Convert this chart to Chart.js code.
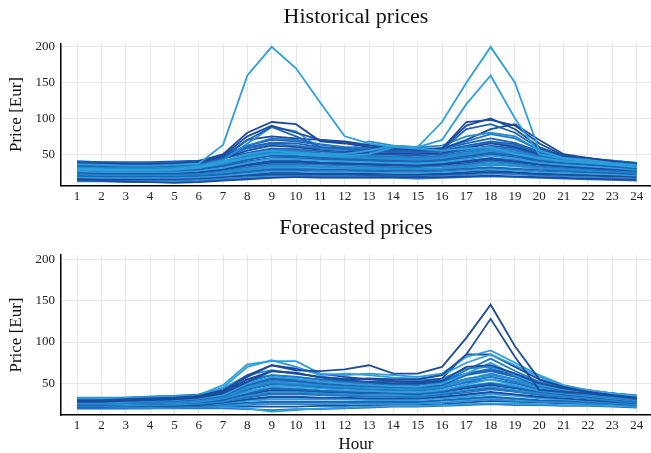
<!DOCTYPE html>
<html>
<head>
<meta charset="utf-8">
<script src="https://cdn.jsdelivr.net/npm/chart.js@4.4.1/dist/chart.umd.min.js"></script>
<style>
  body { margin: 0; background: #fff; width: 651px; height: 453px; overflow: hidden; }
  .box { position: absolute; left: 0; width: 651px; }
</style>
</head>
<body>
<div class="box" style="top:0;height:215px"><canvas id="histChart"></canvas></div>
<div class="box" style="top:215px;height:238px"><canvas id="foreChart"></canvas></div>
<script>
const hours = [1,2,3,4,5,6,7,8,9,10,11,12,13,14,15,16,17,18,19,20,21,22,23,24];
const priceTicks = [50, 100, 150, 200];

// one row per day, one value per hour
const historicalPrices = [
  [36,35,34,34,35,37,63,160,200,170,122,75,65,60,58,55,58,60,50,45,40,38,35,32],
  [30,29,28,28,29,33,40,50,55,52,50,50,55,62,60,95,150,200,150,55,45,42,38,35],
  [28,27,27,27,28,31,38,45,50,50,48,47,50,60,60,70,120,160,100,50,44,40,36,33],
  [38,37,36,36,37,40,50,80,95,92,68,65,60,58,56,58,95,98,90,65,48,44,40,36],
  [36,35,35,35,36,38,48,75,90,80,70,66,62,60,58,58,90,100,85,60,47,43,39,35],
  [34,33,33,33,34,37,45,70,88,75,60,58,56,55,54,56,85,92,80,58,46,42,38,34],
  [32,31,31,31,32,35,42,65,88,82,58,55,68,62,60,62,75,80,75,55,45,42,38,34],
  [35,34,34,34,35,38,46,70,75,72,70,68,63,58,56,58,70,85,92,70,50,45,40,36],
  [33,32,32,32,33,36,44,62,72,70,64,60,58,56,55,57,68,78,72,56,46,42,38,34],
  [40,39,38,38,39,40,47,60,66,65,60,57,55,54,53,55,62,68,64,52,46,43,40,37],
  [38,37,36,36,37,39,44,55,62,60,56,54,52,51,50,52,58,65,60,50,45,42,39,36],
  [32,31,31,31,31,33,40,50,56,55,52,50,48,47,46,48,54,60,56,47,43,40,37,34],
  [30,29,29,29,29,31,37,46,52,51,48,46,45,44,43,45,50,56,52,44,40,38,35,32],
  [28,27,27,27,27,29,34,42,48,47,45,43,42,41,40,42,47,52,48,41,38,36,33,30],
  [26,25,25,25,25,27,31,38,44,43,41,40,39,38,37,39,43,48,44,38,35,33,31,28],
  [25,24,24,24,24,25,29,35,40,40,38,37,36,35,34,36,40,44,40,36,33,31,29,27],
  [23,22,22,22,22,23,27,32,36,36,35,34,33,32,32,33,36,40,37,33,31,29,27,25],
  [22,21,21,21,21,22,25,29,33,33,32,31,30,30,29,30,33,36,34,31,29,27,26,24],
  [20,19,19,19,19,20,22,26,29,29,28,28,27,27,27,28,30,32,30,28,27,25,24,22],
  [18,17,17,17,17,18,20,23,26,26,25,25,25,24,24,25,27,29,27,25,24,23,22,20],
  [16,15,15,15,15,16,18,20,22,22,22,22,21,21,21,22,23,25,24,22,21,20,19,18],
  [14,13,12,11,10,11,13,15,17,18,18,18,18,18,18,18,19,20,19,18,17,16,15,14],
  [12,12,11,11,11,12,14,16,18,18,17,17,17,17,16,17,18,19,18,17,16,15,14,13],
  [35,35,34,34,35,37,40,45,48,47,45,44,43,42,42,44,48,55,50,44,42,40,38,36],
  [27,26,26,26,26,28,33,40,45,45,43,42,41,40,39,41,45,50,46,40,37,35,32,29],
  [24,23,23,23,23,24,28,34,38,38,37,36,35,34,33,35,38,42,39,35,32,30,28,26],
  [39,38,37,37,38,39,45,58,64,62,58,56,54,53,52,54,60,66,62,51,47,44,41,38],
  [30,30,29,29,30,32,36,44,50,49,46,45,44,43,42,44,49,54,50,43,40,38,35,31],
  [37,36,35,35,36,38,44,52,58,57,54,52,50,49,48,50,56,62,58,48,44,41,38,35],
  [34,33,32,32,33,35,40,48,54,53,50,48,47,46,45,47,52,58,54,46,42,39,36,33],
  [31,30,30,30,30,32,36,43,48,48,46,44,43,43,42,44,48,53,49,43,40,37,34,31],
  [29,28,28,28,28,30,33,39,44,44,42,41,40,40,39,41,44,49,45,40,37,35,32,30],
  [21,20,20,20,20,21,24,28,31,31,30,30,29,29,28,29,32,35,33,30,28,26,25,23],
  [19,18,18,18,18,19,21,24,27,27,26,26,26,25,25,26,28,30,28,26,25,24,23,21],
  [17,16,16,16,16,17,19,21,24,24,23,23,23,22,22,23,25,27,25,23,22,21,20,19],
  [15,14,14,13,13,14,16,18,20,20,20,20,20,19,19,20,21,23,22,20,19,18,17,16],
  [26,26,25,25,26,27,30,36,41,41,39,38,37,36,36,37,41,45,42,37,34,32,30,28],
  [40,39,39,39,40,41,48,62,70,68,63,60,58,56,55,57,65,72,66,54,48,44,41,38],
  [33,33,32,32,32,34,38,47,53,52,49,47,46,45,44,46,51,57,53,45,41,39,36,33],
  [23,23,22,22,22,23,26,30,34,34,33,32,31,31,30,31,34,38,35,32,30,28,27,25]
];
const historicalShades = [4,4,4,0,0,1,3,0,2,1,0,2,3,1,4,0,2,3,1,4,0,0,2,3,1,0,2,4,1,3,0,2,4,1,0,3,2,1,0,4];

const forecastPrices = [
  [30,30,31,32,33,35,42,58,72,66,65,67,72,62,62,70,105,145,95,55,46,40,36,33],
  [29,29,30,31,32,34,40,55,65,62,58,55,56,55,55,60,85,128,82,42,40,38,35,32],
  [32,32,32,33,34,36,48,73,77,77,62,60,62,60,58,62,82,90,75,60,48,42,38,35],
  [31,31,31,32,33,35,45,70,78,70,60,62,60,57,56,60,75,85,72,58,47,42,38,34],
  [30,30,30,31,32,34,40,60,72,68,62,58,55,53,52,56,85,85,70,55,46,41,37,33],
  [28,28,29,30,31,33,38,52,65,63,57,54,52,50,50,53,70,72,62,50,44,40,36,32],
  [29,29,29,30,31,33,39,55,60,58,54,52,50,49,48,52,66,80,65,52,45,40,36,33],
  [27,27,28,29,30,32,36,50,58,56,52,50,48,47,46,50,62,75,60,48,43,39,35,32],
  [27,27,28,28,29,31,35,48,55,53,50,48,47,46,45,48,60,65,58,47,42,38,35,31],
  [26,26,27,27,28,30,34,45,52,50,48,46,45,44,43,46,55,62,55,45,41,37,34,30],
  [25,25,26,26,27,29,33,42,50,48,46,44,43,42,41,44,52,58,52,43,39,36,33,29],
  [25,25,25,26,26,28,32,40,47,46,44,42,41,40,39,42,49,55,48,41,38,35,32,29],
  [24,24,25,25,26,27,30,38,44,43,41,40,39,38,38,40,46,50,45,40,37,34,31,28],
  [23,23,24,24,25,26,29,35,40,40,38,37,36,36,35,38,42,46,42,38,35,33,30,27],
  [23,23,23,24,24,25,28,33,37,37,36,35,34,34,33,36,39,43,40,36,34,32,29,27],
  [22,22,23,23,23,24,27,31,34,34,33,33,32,32,32,34,37,40,37,34,32,30,28,26],
  [22,22,22,22,23,24,26,29,31,31,31,31,30,30,30,32,34,37,35,32,31,29,27,25],
  [21,21,21,22,22,23,25,27,28,28,28,28,28,28,28,30,32,34,32,30,29,28,26,24],
  [20,20,20,21,21,22,23,24,25,25,25,25,26,26,26,27,29,31,29,28,27,26,25,23],
  [21,21,21,21,21,22,22,20,16,18,20,21,22,23,23,24,25,26,26,25,24,24,23,22],
  [20,20,20,20,20,20,20,19,18,19,19,20,21,22,22,23,24,25,24,24,23,23,22,21],
  [33,33,33,34,35,37,44,60,66,62,58,56,55,55,54,56,68,70,62,52,46,42,38,36],
  [32,32,32,33,34,35,40,50,56,55,52,50,50,49,49,52,62,66,60,50,45,41,38,35],
  [26,26,26,27,27,28,31,36,42,42,40,39,38,38,37,40,44,48,44,39,36,33,30,28],
  [31,31,31,32,33,34,38,47,53,52,49,47,46,46,45,48,56,60,55,47,43,40,37,34],
  [28,28,28,29,30,31,35,43,49,48,45,44,43,42,42,45,51,55,50,43,40,37,34,31],
  [27,27,27,28,28,30,33,40,45,44,42,41,40,40,39,42,47,51,47,41,38,35,32,30],
  [24,24,24,25,25,26,29,34,38,38,37,36,35,35,34,37,41,44,41,37,35,32,30,28],
  [22,22,22,23,23,24,26,30,33,33,32,32,31,31,31,33,36,39,36,33,31,29,27,26],
  [21,21,21,21,22,22,24,26,27,27,27,27,27,27,27,29,31,33,31,29,28,27,25,24],
  [20,20,20,20,21,21,22,22,22,22,23,23,24,24,24,25,27,29,28,27,26,25,24,22],
  [30,30,30,31,32,33,37,45,50,49,47,46,45,45,44,47,54,58,53,46,42,39,36,33],
  [26,26,26,27,27,28,31,37,42,41,40,39,38,38,37,40,45,49,45,40,37,34,31,29],
  [32,32,33,34,35,36,41,52,60,58,55,53,52,52,51,54,62,68,60,50,45,41,38,35]
];
const forecastShades = [0,0,4,4,0,0,2,4,1,3,2,4,1,3,2,0,4,1,3,4,2,3,1,0,3,1,4,0,2,3,0,4,1,2];

const palette = ['#1d4b9e', '#1f63b6', '#2079c6', '#258dd2', '#2c9fdc'];

const serif = "'Liberation Serif', 'Times New Roman', serif";

function makeChart(canvasId, title, rows, shades, yMin, layout) {

    const ctx = document.getElementById(canvasId);

    return new Chart(ctx, {

        type: 'line',

        data: {
            datasets: rows.map((row, i) => ({
                data: row.map((v, j) => ({ x: hours[j], y: v })),
                borderColor: palette[shades[i]],
                borderWidth: 1.8,
                pointRadius: 0,
                tension: 0
            }))
        },

        options: {
            responsive: true,
            maintainAspectRatio: false,
            animation: false,
            layout: { padding: 0 },
            plugins: {
                legend: { display: false },
                tooltip: { enabled: false },
                title: {
                    display: true,
                    fullSize: false,   // centre over the plot area, not the canvas
                    text: title,
                    color: '#111',
                    font: { family: serif, size: 22, weight: 'normal', lineHeight: 1.2 },
                    padding: layout.titlePadding
                }
            },
            scales: {
                x: {
                    type: 'linear',
                    min: 0.34,
                    max: 24.59,
                    afterBuildTicks: s => { s.ticks = hours.map(h => ({ value: h })); },
                    afterFit: s => { s.height = layout.xHeight; },
                    grid: { color: '#e6e6e6', lineWidth: 1, drawTicks: false },
                    border: { color: '#000', width: 1.5 },
                    ticks: { color: '#222', padding: 3, maxRotation: 0, autoSkip: false,
                             font: { family: serif, size: 13 } },
                    title: {
                        display: layout.showHour,
                        text: 'Hour',
                        color: '#111',
                        font: { family: serif, size: 17, lineHeight: 1 },
                        padding: { top: 0, bottom: 0 }
                    }
                },
                y: {
                    min: yMin,
                    max: 205,
                    afterBuildTicks: s => { s.ticks = priceTicks.map(v => ({ value: v })); },
                    afterFit: s => { s.width = 61; },
                    grid: { color: '#e6e6e6', lineWidth: 1, drawTicks: false },
                    border: { color: '#000', width: 1.5 },
                    ticks: { color: '#222', padding: 6, font: { family: serif, size: 13 } },
                    title: {
                        display: true,
                        text: 'Price [Eur]',
                        color: '#111',
                        font: { family: serif, size: 17, lineHeight: 1.2 },
                        padding: { top: 6, bottom: 0 }
                    }
                }
            }
        }

    });

}

makeChart('histChart', 'Historical prices', historicalPrices, historicalShades, 6,
    { titlePadding: { top: 4, bottom: 12.9 }, xHeight: 29.3, showHour: false });

makeChart('foreChart', 'Forecasted prices', forecastPrices, forecastShades, 12,
    { titlePadding: { top: 0.5, bottom: 13.1 }, xHeight: 38, showHour: true });
</script>
</body>
</html>
